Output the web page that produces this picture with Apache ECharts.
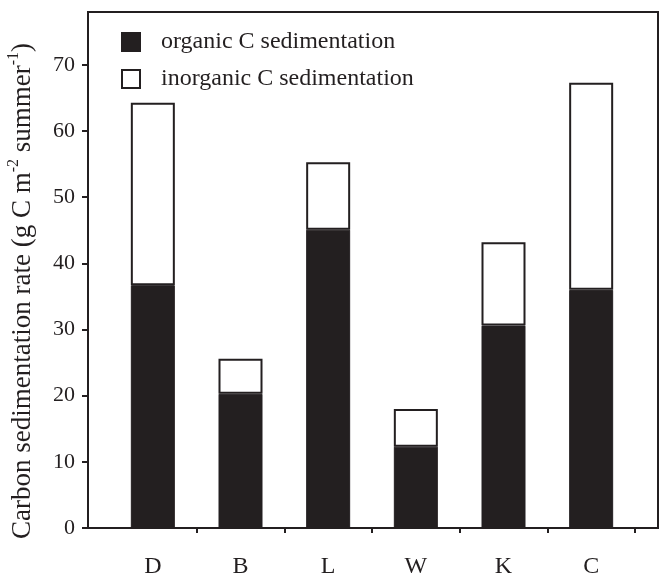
<!DOCTYPE html>
<html>
<head>
<meta charset="utf-8">
<script src="https://cdn.jsdelivr.net/npm/echarts@6/dist/echarts.min.js"></script>
<style>html,body{margin:0;padding:0;background:#fff;}#c{width:660px;height:575px;}</style>
</head>
<body>
<div id="c"></div>
<script>
const categories = ['D', 'B', 'L', 'W', 'K', 'C'];
const organic = [36.7, 20.3, 45.1, 12.3, 30.6, 36.0];
const inorganic = [27.6, 5.3, 10.2, 5.7, 12.6, 31.3];
const yTicks = [0, 10, 20, 30, 40, 50, 60, 70];

const ink = '#231f20';
const serif = '"Liberation Serif", "DejaVu Serif", serif';
const chart = echarts.init(document.getElementById('c'), null, {renderer: 'canvas'});
chart.setOption({
  backgroundColor: '#ffffff',
  animation: false,
  textStyle: {fontFamily: serif, color: ink},
  legend: {
    orient: 'vertical', left: 121, top: 30, padding: 0,
    itemWidth: 18, itemHeight: 18, itemGap: 13,
    icon: 'rect',
    textStyle: {fontFamily: serif, fontSize: 24, color: ink, padding: [0, 0, 0, 16]},
    data: ['organic C sedimentation', 'inorganic C sedimentation']
  },
  grid: [
    {left: 88, right: 2, top: 12, bottom: 47, show: true, borderColor: ink, borderWidth: 2,
      backgroundColor: 'transparent', outerBoundsMode: 'none', containLabel: false},
    {left: 109, right: 25, top: 12, bottom: 47, outerBoundsMode: 'none', containLabel: false}
  ],
  xAxis: [
    {type: 'category', gridIndex: 0, data: categories, show: false},
    {
      type: 'category', gridIndex: 1, data: categories,
      axisLine: {show: false},
      axisTick: {show: true, length: 5, lineStyle: {color: ink, width: 2},
        interval: function (i) { return i > 0; }},
      axisLabel: {fontFamily: serif, fontSize: 24, color: ink, margin: 27}
    }
  ],
  yAxis: [
    {
      type: 'value', gridIndex: 0, min: yTicks[0], max: 78, interval: 10,
      splitLine: {show: false},
      axisLine: {show: true, lineStyle: {color: ink, width: 2}},
      axisTick: {show: true, length: 6, lineStyle: {color: ink, width: 2}},
      axisLabel: {fontFamily: serif, fontSize: 22, color: ink, margin: 13, showMaxLabel: false,
        formatter: function (v) { return yTicks.indexOf(v) >= 0 ? String(v) : ''; }},
      name: '{a|Carbon sedimentation rate (g C m}{s|-2}{a| summer}{s|-1}{a|)}',
      nameLocation: 'middle', nameGap: 52, nameRotate: 90,
      nameTextStyle: {
        padding: [0, 42, 0, 0],
        rich: {
          a: {fontFamily: serif, fontSize: 27, color: ink, lineHeight: 30, verticalAlign: 'bottom'},
          s: {fontFamily: serif, fontSize: 16, color: ink, lineHeight: 30, verticalAlign: 'top'}
        }
      }
    },
    {type: 'value', gridIndex: 1, min: yTicks[0], max: 78, interval: 10, show: false}
  ],
  series: [
    {
      name: 'organic C sedimentation', type: 'bar', stack: 'total',
      xAxisIndex: 1, yAxisIndex: 1, barWidth: 44,
      itemStyle: {color: ink, borderColor: ink, borderWidth: 1},
      data: organic
    },
    {
      name: 'inorganic C sedimentation', type: 'bar', stack: 'total',
      xAxisIndex: 1, yAxisIndex: 1, barWidth: 44,
      itemStyle: {color: '#ffffff', borderColor: ink, borderWidth: 2},
      data: inorganic
    }
  ]
});
</script>
</body>
</html>
